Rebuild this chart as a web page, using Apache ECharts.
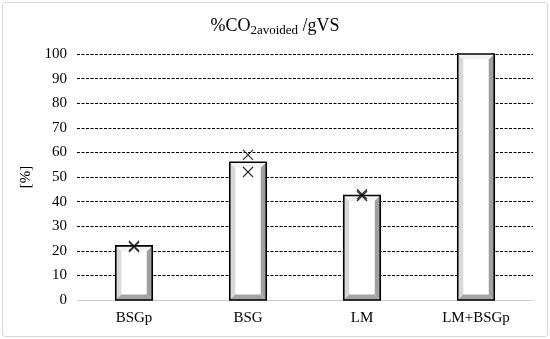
<!DOCTYPE html>
<html><head><meta charset="utf-8">
<script src="https://cdn.jsdelivr.net/npm/echarts@6/dist/echarts.min.js"></script>
<style>
html,body{margin:0;padding:0;background:#fff;}
#frame{position:absolute;left:2px;top:2px;width:544px;height:333px;border:1px solid #d9d9d9;border-radius:3px;}
#c{position:absolute;left:0;top:0;width:550px;height:339px;}
</style></head>
<body>
<div id="frame"></div>
<div id="c"></div>
<script>
const categories = ['BSGp', 'BSG', 'LM', 'LM+BSGp'];
const barValues = [22, 56, 42.5, 100];
const markerA = [22, 59, 43, null];
const markerB = [21.5, 52, 42.3, null];
const yTicks = {min: 0, max: 100, interval: 10};

const chart = echarts.init(document.getElementById('c'));
const serif = '"Liberation Serif","Times New Roman",serif';

function renderBar(params, api) {
  const idx = api.value(0);
  const v = api.value(1);
  const topPt = api.coord([idx, v]);
  const basePt = api.coord([idx, 0]);
  const w = api.size([1, 0])[0] * 0.32;
  const l = topPt[0] - w / 2, r = topPt[0] + w / 2, t = topPt[1], b = basePt[1];
  const e = 5.5;
  return {
    type: 'group',
    children: [
      {type: 'rect', shape: {x: l, y: t, width: w, height: b - t}, style: {fill: '#ffffff'}},
      {type: 'polygon', shape: {points: [[l, t], [r, t], [r - e, t + e], [l + e, t + e]]}, style: {fill: '#f2f2f2'}},
      {type: 'polygon', shape: {points: [[l, t], [l + e, t + e], [l + e, b - e], [l, b]]}, style: {fill: '#d9d9d9'}},
      {type: 'polygon', shape: {points: [[r, t], [r - e, t + e], [r - e, b - e], [r, b]]}, style: {fill: '#a0a0a0'}},
      {type: 'polygon', shape: {points: [[l, b], [l + e, b - e], [r - e, b - e], [r, b]]}, style: {fill: '#a3a3a3'}},
      {type: 'rect', shape: {x: l, y: t, width: w, height: b - t}, style: {fill: 'none', stroke: '#000', lineWidth: 1.6}}
    ]
  };
}

const xPath = 'path://M0,0L10,10M10,0L0,10';

chart.setOption({
  animation: false,
  backgroundColor: 'transparent',
  title: {
    text: '%CO{sub|2avoided} /gVS',
    left: 'center',
    top: 10,
    textStyle: {
      fontFamily: serif, fontSize: 18, fontWeight: 'normal', color: '#000',
      rich: {sub: {fontFamily: serif, fontSize: 13, color: '#000', verticalAlign: 'bottom', padding: [9, 0, 0, 0]}}
    }
  },
  grid: {left: 77, right: 17, top: 54, bottom: 39},
  xAxis: {
    type: 'category',
    data: categories,
    axisLine: {show: true, lineStyle: {color: '#d0d0d0', width: 1}},
    axisTick: {show: false},
    axisLabel: {fontFamily: serif, fontSize: 15, color: '#000', margin: 11},
    splitLine: {show: false}
  },
  yAxis: {
    type: 'value',
    min: yTicks.min, max: yTicks.max, interval: yTicks.interval,
    name: '[%]',
    nameLocation: 'middle',
    nameGap: 38,
    nameRotate: 90,
    nameTextStyle: {fontFamily: serif, fontSize: 15, color: '#000'},
    axisLine: {show: false},
    axisTick: {show: false},
    axisLabel: {fontFamily: serif, fontSize: 15, color: '#000', margin: 10},
    splitLine: {show: true, lineStyle: {color: '#000', type: [3, 1.5], width: 1}}
  },
  series: [
    {
      type: 'custom',
      renderItem: renderBar,
      data: barValues.map((v, i) => [i, v]),
      z: 2
    },
    {
      type: 'scatter',
      data: markerA.map((v, i) => [i, v]).filter(d => d[1] !== null),
      symbol: xPath,
      symbolSize: 10,
      itemStyle: {color: 'none', borderColor: '#000', borderWidth: 1.3},
      z: 5
    },
    {
      type: 'scatter',
      data: markerB.map((v, i) => [i, v]).filter(d => d[1] !== null),
      symbol: xPath,
      symbolSize: 10,
      itemStyle: {color: 'none', borderColor: '#000', borderWidth: 1.3},
      z: 5
    }
  ]
});
</script>
</body></html>
